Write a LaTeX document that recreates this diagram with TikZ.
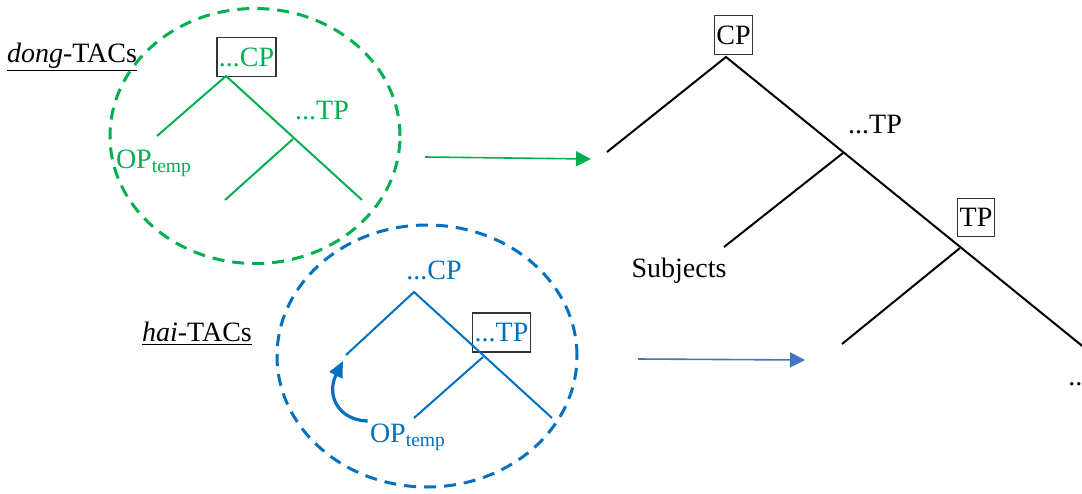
\documentclass[tikz,border=0pt]{standalone}
\usepackage{fontspec}
\setmainfont{Liberation Serif}
\usetikzlibrary{arrows.meta, positioning}

\definecolor{tacgreen}{RGB}{0,176,80}
\definecolor{tacblue}{RGB}{0,112,192}
\definecolor{arrowblue}{RGB}{68,114,196}

\begin{document}
\begin{tikzpicture}[
    x=0.5pt, y=-0.5pt, % one unit per pixel of the sketch
    every node/.style={font=\fontsize{14}{16}\selectfont, inner sep=1pt},
    catbox/.style={draw=black!80, line width=0.7pt, inner xsep=1pt, inner ysep=5pt},
    branch/.style={line width=1pt},
    zone/.style={line width=1.5pt, dash pattern=on 6pt off 4pt},
    line/.style={draw, -{Triangle[length=7.5pt, width=7.5pt]}, line width=0.8pt},
    move/.style={draw=tacblue, -{Triangle[length=8pt, width=7pt]}, line width=1.6pt}
]
\useasboundingbox (0,0) rectangle (1082,493);

% Regions
\draw[zone, draw=tacgreen] (255,136) ellipse [x radius=72.5pt, y radius=63.75pt];
\draw[zone, draw=tacblue] (427,356) ellipse [x radius=75pt, y radius=65.5pt];

% dong-TACs tree
\node[anchor=base] (donglbl) at (72,62) {\underline{\textit{dong}-TACs}};
\node[catbox, text=tacgreen] (gcp) at (246.5,57) {...CP};
\coordinate (groot) at (226,76);
\coordinate (gleft) at (157,136);
\coordinate (gmid) at (293,139);
\coordinate (gmidleft) at (225,200);
\coordinate (gright) at (362,200);
\node[anchor=base, text=tacgreen] (gtp) at (322,119) {...TP};
\node[anchor=base, text=tacgreen] (gop) at (154,168) {OP\textsubscript{temp}};
\draw[branch, tacgreen] (gleft) -- (groot) -- (gright);
\draw[branch, tacgreen] (gmid) -- (gmidleft);

% hai-TACs tree
\node[anchor=base] (hailbl) at (197,341) {\underline{\textit{hai}-TACs}};
\node[anchor=base, text=tacblue] (bcp) at (434,279) {...CP};
\node[catbox, text=tacblue] (btp) at (501.5,332.5) {...TP};
\coordinate (broot) at (414,292);
\coordinate (bleft) at (346,355);
\coordinate (bmid) at (483,357);
\coordinate (bmidleft) at (414,418);
\coordinate (bright) at (552,418);
\coordinate (bland) at (343,361);
\node[anchor=base, text=tacblue] (bop) at (408,442) {OP\textsubscript{temp}};
\draw[branch, tacblue] (bleft) -- (broot) -- (bright);
\draw[branch, tacblue] (bmid) -- (bmidleft);
\draw[move] (bop.north west) .. controls (338,420) and (326,395) .. (bland);

% Target tree
\node[catbox] (kcp) at (733.5,35) {CP};
\coordinate (kroot) at (726,57);
\coordinate (kleft) at (607,152);
\coordinate (kmid) at (843,153);
\coordinate (ksubj) at (724,247);
\coordinate (klow) at (960,248);
\coordinate (klowleft) at (842,344);
\coordinate (kright) at (1086,349);
\node[anchor=base] (ktp) at (875,133) {...TP};
\node[anchor=base] (ksub) at (679,277) {Subjects};
\node[catbox] (ktpbox) at (976,217.5) {TP};
\node[anchor=base west] (kdots) at (1066,385) {...};
\draw[branch] (kleft) -- (kroot) -- (kright);
\draw[branch] (kmid) -- (ksubj);
\draw[branch] (klow) -- (klowleft);

% Arrows
\coordinate (gfrom) at (425,157);
\coordinate (gto) at (591,159);
\coordinate (bfrom) at (638,359);
\coordinate (bto) at (805,360);
\path[line, draw=tacgreen] (gfrom) -- (gto);
\path[line, draw=arrowblue] (bfrom) -- (bto);

\end{tikzpicture}
\end{document}
